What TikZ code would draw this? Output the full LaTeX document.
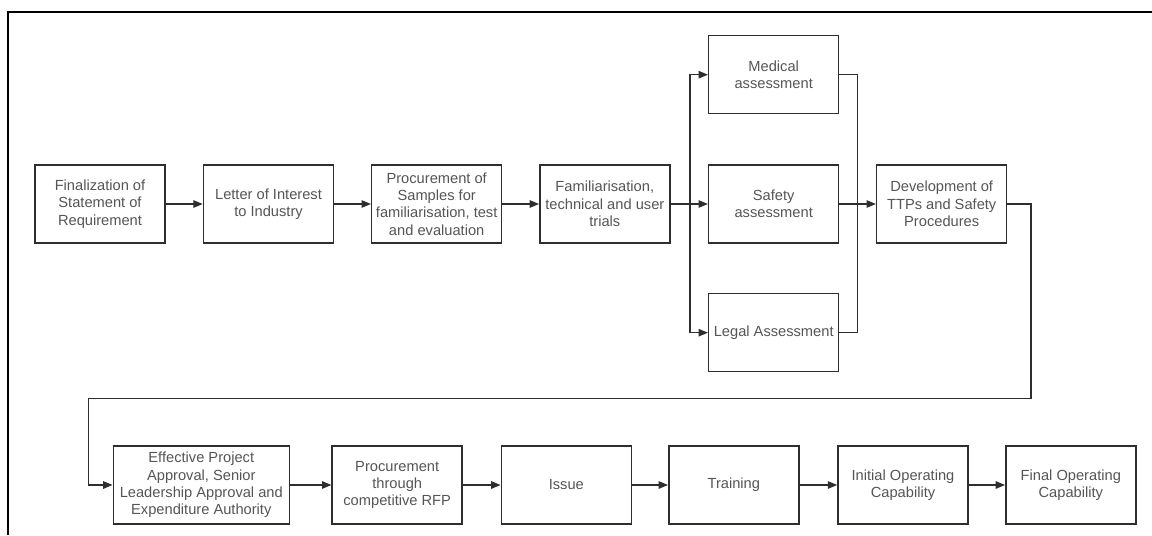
\documentclass[tikz,border=0pt]{standalone}
\usepackage{fontspec}
\setmainfont{Liberation Sans}
\usetikzlibrary{arrows.meta}
\definecolor{txt}{HTML}{555555}
\definecolor{ln}{HTML}{2E2E2E}
\tikzset{
  box/.style={draw=ln, line width=1.1pt, minimum width=97.5pt, minimum height=58.5pt, inner sep=1pt,
    align=center, text=txt, font=\fontsize{11pt}{13pt}\selectfont},
  wbox/.style={box, minimum width=132pt},
  conn/.style={draw=ln, line width=1.1pt},
  arr/.style={conn, -{Triangle[length=7pt,width=5.5pt]}}
}
\begin{document}
\begin{tikzpicture}[x=0.75pt,y=-0.75pt]
\useasboundingbox (0,0) rectangle (1152,535);
\draw[black, line width=2.2pt] (8,535) -- (8,12) -- (1152,12);
% row 1
\node[box] (fin) at (100,204) {Finalization of\\Statement of\\Requirement};
\node[box] (loi) at (268.5,204) {Letter of Interest\\to Industry};
\node[box] (proc) at (436.7,204) {Procurement of\\Samples for\\familiarisation, test\\and evaluation};
\node[box] (fam) at (604.8,204) {Familiarisation,\\technical and user\\trials};
\node[box] (med) at (773.7,74.7) {Medical\\assessment};
\node[box] (saf) at (773.7,204) {Safety\\assessment};
\node[box] (leg) at (773.7,332.7) {Legal Assessment};
\node[box] (dev) at (941.7,204) {Development of\\TTPs and Safety\\Procedures};
% row 2
\node[wbox] (epa) at (201.3,485) {Effective Project\\Approval, Senior\\Leadership Approval and\\Expenditure Authority};
\node[box] (rfp) at (397.2,485) {Procurement\\through\\competitive RFP};
\node[box] (iss) at (566.3,485) {Issue};
\node[box] (trn) at (733.8,485) {Training};
\node[box] (ioc) at (903,485) {Initial Operating\\Capability};
\node[box] (foc) at (1070.8,485) {Final Operating\\Capability};
% connectors
\coordinate (fork) at (690,204);
\coordinate (join) at (857.3,204);
\coordinate (r1) at (1031,398.3);
\coordinate (r2) at (88.3,398.3);
\draw[arr] (fin) -- (loi);
\draw[arr] (loi) -- (proc);
\draw[arr] (proc) -- (fam);
\draw[arr] (fam) -- (saf);
\draw[arr] (fork) |- (med.west);
\draw[arr] (fork) |- (leg.west);
\draw[conn] (med.east) -| (join);
\draw[conn] (leg.east) -| (join);
\draw[arr] (saf) -- (dev);
\draw[arr] (dev.east) -| (r1) -- (r2) |- (epa.west);
\draw[arr] (epa) -- (rfp);
\draw[arr] (rfp) -- (iss);
\draw[arr] (iss) -- (trn);
\draw[arr] (trn) -- (ioc);
\draw[arr] (ioc) -- (foc);
\end{tikzpicture}
\end{document}
